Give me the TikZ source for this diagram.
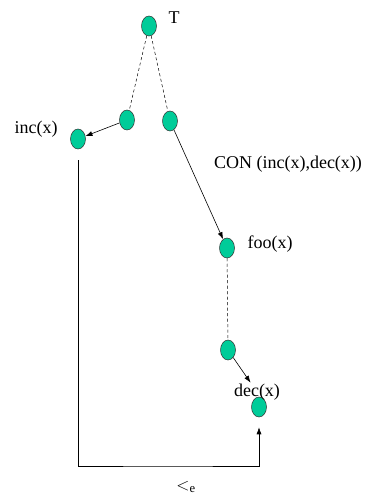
\documentclass[tikz,border=0pt]{standalone}
\usepackage{fontspec}
\setmainfont{Liberation Serif}
\usepackage{tikz}
\usetikzlibrary{shapes.geometric,arrows.meta}

\definecolor{dotgreen}{RGB}{0,204,153}

\begin{document}
\begin{tikzpicture}[x=1pt, y=-1pt,
    dot/.style={ellipse, draw=black!80, line width=0.5pt, fill=dotgreen, minimum width=15pt, minimum height=20pt, inner sep=0pt},
    lbl/.style={font=\fontsize{18}{20}\selectfont, inner sep=1pt},
    tree/.style={line width=0.5pt, dash pattern=on 3pt off 2.5pt},
    edge/.style={line width=0.6pt, -{Latex[length=7pt,width=5pt]}}]
    \useasboundingbox (0,0) rectangle (369,502);
    \node[dot] (T) at (149,26) {}; \node[dot] (L1) at (127,120) {}; \node[dot] (R1) at (170,121) {};
    \node[dot] (inc) at (78,139) {}; \node[dot] (foo) at (227,248) {};
    \node[dot] (n4) at (228,350) {}; \node[dot] (dec) at (259,407) {};
    
    \node[lbl] (lT) at (174,18) {T}; \node[lbl] (linc) at (36,129) {inc(x)};
    \node[lbl] (lcon) at (288,164) {CON (inc(x),dec(x))}; \node[lbl] (lfoo) at (270,244) {foo(x)};
    \node[lbl] (ldec) at (257,392) {dec(x)}; \node[lbl] (lord) at (186,487) {$<_{\mathrm{e}}$};
    
    \draw[tree] (T) -- (L1); \draw[tree] (T) -- (R1); \draw[tree] (foo) -- (n4);
    \draw[edge] (L1) -- (inc); \draw[edge] (R1) -- (foo); \draw[edge] (n4) -- (ldec);
    
    \coordinate (base) at (167,466);
    \draw[edge, shorten <=11pt, shorten >=10pt] (inc.south) |- (base) -| (dec.south);
\end{tikzpicture}
\end{document}
